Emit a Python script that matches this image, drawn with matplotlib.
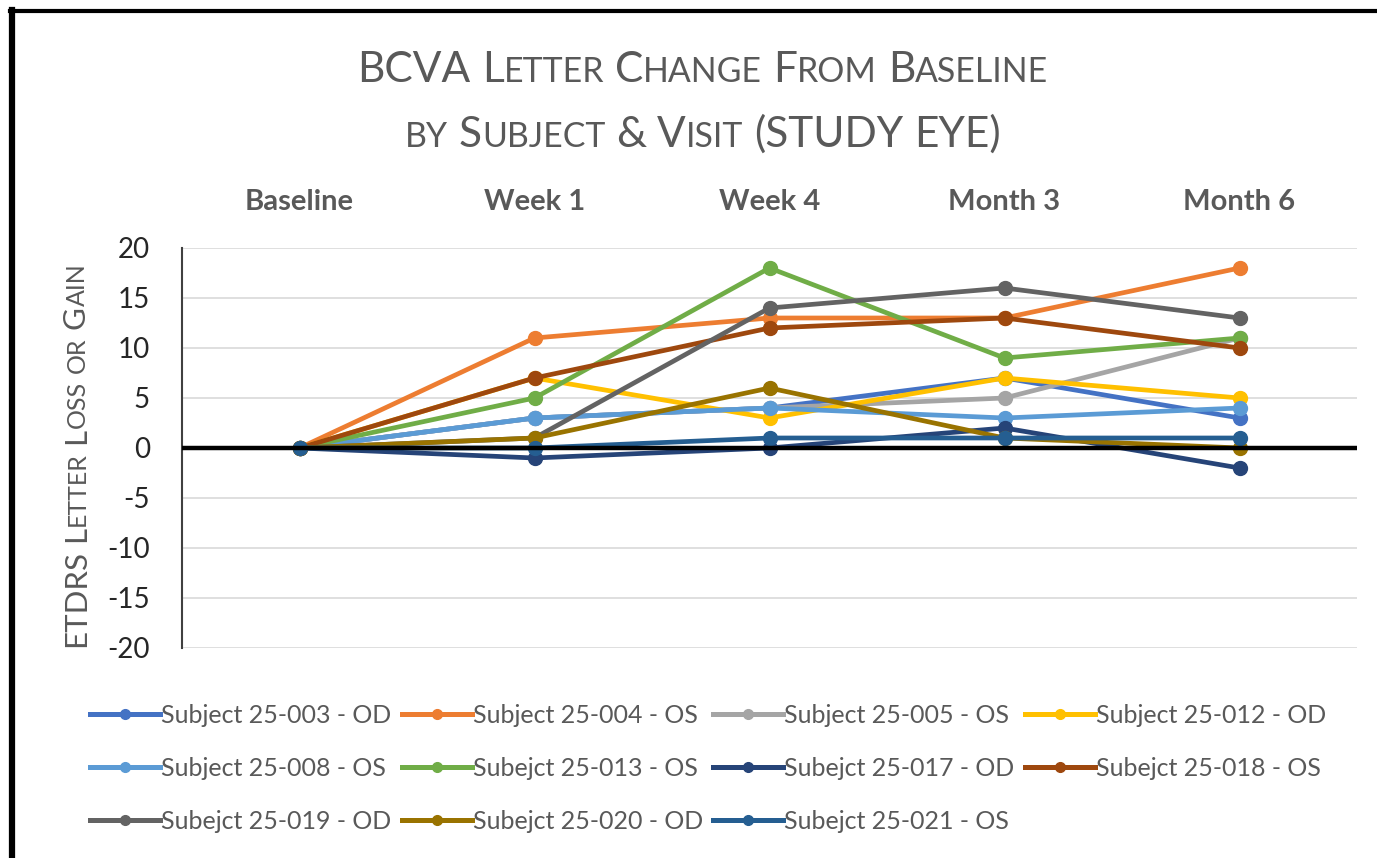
# BCVA letter change chart, rebuilt from the Excel screenshot
import matplotlib
matplotlib.use("Agg")
import matplotlib.pyplot as plt
from matplotlib.lines import Line2D
from matplotlib.transforms import IdentityTransform

visits = ["Baseline", "Week 1", "Week 4", "Month 3", "Month 6"]

subjects = [
    "Subject 25-003 - OD", "Subject 25-004 - OS", "Subject 25-005 - OS",
    "Subject 25-012 - OD", "Subject 25-008 - OS", "Subejct 25-013 - OS",
    "Subejct 25-017 - OD", "Subejct 25-018 - OS", "Subejct 25-019 - OD",
    "Subejct 25-020 - OD", "Subejct 25-021 - OS",
]

s003 = [0, 3, 4, 7, 3]
s004 = [0, 11, 13, 13, 18]
s005 = [0, 3, 4, 5, 11]
s012 = [0, 7, 3, 7, 5]
s008 = [0, 3, 4, 3, 4]
s013 = [0, 5, 18, 9, 11]
s017 = [0, -1, 0, 2, -2]
s018 = [0, 7, 12, 13, 10]
s019 = [0, 1, 14, 16, 13]
s020 = [0, 1, 6, 1, 0]
s021 = [0, 0, 1, 1, 1]
values = [s003, s004, s005, s012, s008, s013, s017, s018, s019, s020, s021]

colors = ["#4472C4", "#ED7D31", "#A5A5A5", "#FFC000", "#5B9BD5", "#70AD47",
          "#264478", "#9E480E", "#636363", "#997300", "#255E91"]

FONT = ["Lato", "DejaVu Sans"]
plt.rcParams["font.family"] = FONT
plt.rcParams["axes.unicode_minus"] = False

W, H = 1377, 858
fig = plt.figure(figsize=(W / 100, H / 100), dpi=100)
ax = fig.add_axes([182 / W, 1 - 648 / H, 1175 / W, 400 / H])

x = [i + 0.5 for i in range(len(visits))]
for vals, col in zip(values, colors):
    ax.plot(x, vals, color=col, lw=3.4, marker="o", markersize=10,
            solid_capstyle="round", zorder=3)

ax.axhline(0, color="black", lw=3.2, zorder=4)
ax.set_xlim(0, len(visits))
ax.set_ylim(-20, 20)
ax.set_yticks(range(-20, 21, 5))
ax.grid(axis="y", color="#d9d9d9", lw=1.2, zorder=0)
ax.set_axisbelow(True)

ax.xaxis.tick_top()
ax.set_xticks(x)
ax.set_xticklabels(visits, fontsize=21, color="#595959", fontweight="bold")
ax.tick_params(axis="x", length=0, pad=24)
ax.tick_params(axis="y", length=0, pad=23, labelsize=20, labelcolor="#262626")
for side in ["top", "right", "bottom"]:
    ax.spines[side].set_visible(False)
ax.spines["left"].set_color("#404040")
ax.spines["left"].set_linewidth(1.5)


def caps_runs(word):
    runs = []
    for ch in word:
        small = ch.islower()
        if runs and runs[-1][1] == small:
            runs[-1][0] += ch.upper()
        else:
            runs.append([ch.upper(), small])
    return runs


def small_caps(cx, cy, text, size, rotation=0, color="#595959", weight="normal"):
    # fake small caps: lower-case letters drawn as smaller capitals
    renderer = fig.canvas.get_renderer()
    ssize = size * 0.8

    def width(s, fs):
        t = fig.text(0, 0, s, fontsize=fs, fontweight=weight)
        w = t.get_window_extent(renderer).width
        t.remove()
        return w

    space = width("I I", size) - width("II", size)
    words = [caps_runs(w) for w in text.split(" ")]
    placed = []
    pos = 0
    for i, runs in enumerate(words):
        if i:
            pos += space
        for s, small in runs:
            fs = ssize if small else size
            placed.append((pos, s, fs))
            pos += width(s, fs)
    start = -pos / 2
    for off, s, fs in placed:
        d = start + off
        if rotation == 0:
            px, py = cx + d, cy
        else:
            px, py = cx, cy + d
        fig.text(px, py, s, fontsize=fs, color=color, fontweight=weight,
                 ha="left", va="baseline", rotation=rotation,
                 rotation_mode="anchor", transform=IdentityTransform())


small_caps(703, H - 82, "BCVA Letter Change From Baseline", 30.5)
small_caps(703, H - 147, "by Subject & Visit (STUDY EYE)", 30.5)
small_caps(85, H - 455, "ETDRS Letter Loss or Gain", 22.5, rotation=90)

# legend: matplotlib fills column by column, Excel fills row by row
order = [0, 4, 8, 1, 5, 9, 2, 6, 10, 3, 7]
handles = [Line2D([], [], color=colors[i], lw=3.6, marker="o", markersize=7)
           for i in order]
labels = [subjects[i] for i in order]
fig.legend(handles, labels, ncol=4, loc="upper left",
           bbox_to_anchor=(90 / W, 1 - 704 / H), frameon=False,
           fontsize=18, labelcolor="#595959", handlelength=2.8,
           handletextpad=0.05, columnspacing=0.4, labelspacing=1.2,
           borderaxespad=0, borderpad=0)

# outer frame of the screenshot
fig.add_artist(Line2D([12 / W, 12 / W], [0, 1 - 10 / H], color="black",
                      lw=4.5, transform=fig.transFigure))
fig.add_artist(Line2D([10 / W, 1], [1 - 11 / H, 1 - 11 / H], color="black",
                      lw=3, transform=fig.transFigure))

fig.savefig("out.png", dpi=100)
